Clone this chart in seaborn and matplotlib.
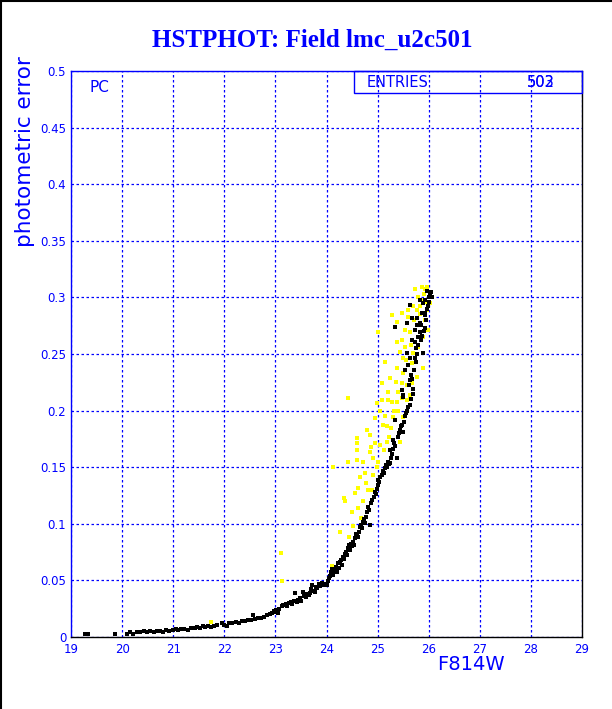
import matplotlib
matplotlib.use("Agg")
import matplotlib.pyplot as plt
from matplotlib.lines import Line2D
from matplotlib.patches import Rectangle
from matplotlib.ticker import MultipleLocator, FixedLocator
import seaborn as sns
import pandas as pd

# ---------------- data ----------------
black_mag = [19.28, 19.33, 19.86, 20.10, 20.16, 20.22, 20.30, 20.36, 20.42, 20.48, 20.55, 20.62, 20.68, 20.74,
             20.80, 20.86, 20.92, 21.00, 21.05, 21.10, 21.16, 21.22, 21.28, 21.34, 21.42, 21.46, 21.52, 21.58,
             21.62, 21.68, 21.74, 21.80, 21.86, 21.95, 22.00, 22.05, 22.10, 22.16, 22.22, 22.28, 22.34, 22.40,
             22.46, 22.52, 22.56, 22.60, 22.66, 22.72, 22.78, 22.84, 22.90, 22.94, 22.97, 23.00, 23.02, 23.05,
             23.08, 23.12, 23.15, 23.20, 23.23, 23.27, 23.30, 23.33, 23.36, 23.38, 23.42, 23.45, 23.48, 23.50,
             23.54, 23.56, 23.60, 23.62, 23.65, 23.68, 23.70, 23.72, 23.75, 23.78, 23.80, 23.82, 23.85, 23.88,
             23.92, 23.95, 23.98, 24.00, 24.02, 24.05, 24.07, 24.09, 24.10, 24.12, 24.14, 24.16, 24.18, 24.20,
             24.22, 24.24, 24.26, 24.28, 24.30, 24.32, 24.34, 24.36, 24.38, 24.40, 24.42, 24.44, 24.46, 24.48,
             24.50, 24.52, 24.54, 24.56, 24.58, 24.60, 24.62, 24.64, 24.66, 24.68, 24.70, 24.72, 24.74, 24.76,
             24.78, 24.80, 24.82, 24.84, 24.86, 24.88, 24.90, 24.92, 24.94, 24.96, 24.98, 25.00, 25.01, 25.03,
             25.05, 25.08, 25.10, 25.12, 25.14, 25.16, 25.18, 25.20, 25.22, 25.24, 25.26, 25.28, 25.30, 25.24,
             25.32, 25.30, 25.35, 25.38, 25.40, 25.42, 25.44, 25.46, 25.48, 25.50, 25.34, 25.52, 25.54, 25.56,
             25.58, 25.60, 25.63, 25.50, 25.66, 25.69, 25.48, 25.50, 25.62, 25.64, 25.54, 25.60, 25.66, 25.70,
             25.58, 25.63, 25.73, 25.89, 25.75, 25.79, 25.67, 25.73, 25.83, 25.73, 25.93, 25.34, 25.77, 25.83,
             25.58, 25.67, 25.77, 25.87, 25.93, 25.89, 25.63, 25.83, 25.93, 26.06, 26.03, 25.97, 25.99, 26.01,
             26.04, 25.95, 25.85, 25.80, 25.90, 25.96, 25.76, 25.72, 25.68, 25.84, 25.92, 26.00, 25.78, 25.86]
black_err = [0.003, 0.003, 0.003, 0.003, 0.004, 0.003, 0.004, 0.004, 0.005, 0.004, 0.005, 0.004, 0.005, 0.005,
             0.004, 0.006, 0.005, 0.006, 0.007, 0.006, 0.007, 0.007, 0.006, 0.008, 0.008, 0.009, 0.008, 0.010,
             0.009, 0.010, 0.009, 0.010, 0.011, 0.012, 0.011, 0.010, 0.012, 0.012, 0.013, 0.012, 0.014, 0.014,
             0.015, 0.015, 0.019, 0.016, 0.017, 0.017, 0.018, 0.019, 0.020, 0.021, 0.023, 0.022, 0.024, 0.021,
             0.025, 0.027, 0.028, 0.029, 0.027, 0.030, 0.031, 0.029, 0.032, 0.039, 0.031, 0.033, 0.034, 0.032,
             0.040, 0.036, 0.035, 0.038, 0.037, 0.039, 0.042, 0.046, 0.041, 0.040, 0.044, 0.043, 0.047, 0.045,
             0.048, 0.046, 0.047, 0.046, 0.049, 0.052, 0.054, 0.057, 0.060, 0.055, 0.059, 0.058, 0.062, 0.057,
             0.065, 0.061, 0.066, 0.068, 0.064, 0.071, 0.069, 0.073, 0.075, 0.072, 0.079, 0.081, 0.077, 0.082,
             0.080, 0.084, 0.081, 0.087, 0.091, 0.089, 0.088, 0.093, 0.097, 0.099, 0.096, 0.102, 0.104, 0.101,
             0.106, 0.110, 0.115, 0.112, 0.099, 0.118, 0.121, 0.124, 0.128, 0.126, 0.131, 0.134, 0.139, 0.137,
             0.141, 0.143, 0.147, 0.145, 0.149, 0.152, 0.150, 0.155, 0.153, 0.154, 0.158, 0.162, 0.166, 0.165,
             0.171, 0.174, 0.169, 0.158, 0.177, 0.180, 0.183, 0.186, 0.187, 0.181, 0.192, 0.190, 0.195, 0.198,
             0.200, 0.203, 0.205, 0.214, 0.210, 0.215, 0.218, 0.212, 0.223, 0.227, 0.236, 0.240, 0.231, 0.219,
             0.251, 0.246, 0.246, 0.251, 0.255, 0.265, 0.262, 0.261, 0.269, 0.271, 0.273, 0.274, 0.276, 0.277,
             0.277, 0.282, 0.282, 0.286, 0.286, 0.295, 0.293, 0.298, 0.298, 0.300, 0.302, 0.306, 0.292, 0.296,
             0.305, 0.280, 0.262, 0.258, 0.270, 0.290, 0.243, 0.236, 0.228, 0.276, 0.284, 0.300, 0.250, 0.266]

yellow_mag = [21.74, 23.12, 23.10, 24.10, 24.13, 24.26, 24.34, 24.36, 24.42, 24.42, 24.50, 24.56, 24.60, 24.60,
              24.60, 24.60, 24.62, 24.62, 24.66, 24.71, 24.77, 24.79, 24.81, 24.85, 24.85, 24.89, 24.91, 24.95,
              24.95, 24.91, 24.99, 25.01, 25.05, 25.09, 25.10, 25.18, 25.18, 25.20, 25.20, 25.28, 25.30, 25.38,
              25.40, 25.44, 25.48, 25.50, 25.58, 25.63, 25.48, 25.22, 25.01, 25.28, 25.09, 25.14, 25.24, 25.38,
              25.38, 25.38, 25.44, 25.48, 25.48, 25.50, 25.50, 25.54, 25.58, 25.60, 25.60, 25.63, 25.63, 25.67,
              25.69, 25.69, 25.73, 25.77, 25.79, 25.79, 25.83, 25.87, 25.89, 25.89, 25.93, 25.93, 25.97, 25.97,
              25.99, 26.03, 25.54, 25.40, 25.48, 25.67, 25.77, 25.05, 25.12, 25.26, 25.32, 25.15, 24.72, 24.68,
              24.52, 24.45, 24.98, 25.36, 25.55, 25.65, 25.71, 25.85, 25.91, 25.82, 25.95, 24.88, 24.75]
yellow_err = [0.013, 0.049, 0.074, 0.063, 0.150, 0.093, 0.123, 0.120, 0.155, 0.211, 0.110, 0.127, 0.176, 0.171,
              0.165, 0.156, 0.132, 0.114, 0.141, 0.155, 0.136, 0.183, 0.130, 0.178, 0.163, 0.130, 0.158, 0.193,
              0.171, 0.143, 0.207, 0.155, 0.200, 0.209, 0.187, 0.172, 0.186, 0.209, 0.216, 0.208, 0.194, 0.208,
              0.200, 0.172, 0.211, 0.194, 0.209, 0.211, 0.218, 0.177, 0.269, 0.284, 0.224, 0.243, 0.229, 0.278,
              0.261, 0.238, 0.252, 0.286, 0.262, 0.246, 0.233, 0.256, 0.223, 0.289, 0.283, 0.214, 0.269, 0.242,
              0.292, 0.251, 0.307, 0.230, 0.256, 0.300, 0.292, 0.309, 0.265, 0.238, 0.280, 0.307, 0.289, 0.309,
              0.271, 0.295, 0.271, 0.216, 0.224, 0.224, 0.289, 0.170, 0.165, 0.185, 0.200, 0.195, 0.120, 0.105,
              0.098, 0.088, 0.150, 0.225, 0.245, 0.258, 0.280, 0.298, 0.303, 0.285, 0.296, 0.168, 0.145]

x_ticks = [19, 20, 21, 22, 23, 24, 25, 26, 27, 28, 29]
x_tick_labels = ["19", "20", "21", "22", "23", "24", "25", "26", "27", "28", "29"]
y_ticks = [0, 0.05, 0.1, 0.15, 0.2, 0.25, 0.3, 0.35, 0.4, 0.45, 0.5]
y_tick_labels = ["0", "0.05", "0.1", "0.15", "0.2", "0.25", "0.3", "0.35", "0.4", "0.45", "0.5"]

title = "HSTPHOT: Field lmc_u2c501"
x_label = "F814W"
y_label = "photometric error"
entries_values = ["503", "502"]

# ---------------- plot ----------------
sns.set_style("white")
plt.rcParams['font.family'] = ['DejaVu Sans']
BLUE = "#0000ff"

df_y = pd.DataFrame({"mag": yellow_mag, "err": yellow_err})
df_b = pd.DataFrame({"mag": black_mag, "err": black_err})

fig = plt.figure(figsize=(6.12, 7.09), dpi=100)
ax = fig.add_axes([0.116, 0.1016, 0.835, 0.7983])

sns.scatterplot(data=df_y, x="mag", y="err", ax=ax, color="#ffff00", marker="s", s=6,
                linewidth=0, zorder=3, legend=False)
sns.scatterplot(data=df_b, x="mag", y="err", ax=ax, color="black", marker="s", s=5,
                linewidth=0, zorder=4, legend=False)

ax.set_xlim(19, 29)
ax.set_ylim(0, 0.5)
ax.set_xlabel("")
ax.set_ylabel("")
ax.xaxis.set_major_locator(FixedLocator(x_ticks))
ax.set_xticklabels(x_tick_labels)
ax.yaxis.set_major_locator(FixedLocator(y_ticks))
ax.set_yticklabels(y_tick_labels)
ax.xaxis.set_minor_locator(MultipleLocator(0.2))
ax.yaxis.set_minor_locator(MultipleLocator(0.01))
ax.tick_params(which="both", direction="in", colors=BLUE, labelcolor=BLUE, labelsize=8.5,
               top=False, right=False)
ax.tick_params(which="major", length=10, width=1)
ax.tick_params(which="minor", length=5, width=1)
ax.tick_params(axis="x", pad=4)
ax.grid(True, which="major", color=BLUE, linestyle=(0, (2, 2)), linewidth=0.9, zorder=1)
ax.set_axisbelow(True)

for side in ["left", "top"]:
    ax.spines[side].set_color(BLUE)
for side in ["bottom", "right"]:
    ax.spines[side].set_color("black")
for sp in ax.spines.values():
    sp.set_linewidth(1.0)
    sp.set_visible(True)

# stats box
ax.add_patch(Rectangle((0.554, 0.961), 0.446, 0.039, transform=ax.transAxes, fill=False,
                       edgecolor=BLUE, linewidth=1.0, clip_on=False, zorder=5))
ax.text(0.578, 0.9805, "ENTRIES", transform=ax.transAxes, color=BLUE, fontsize=10.5,
        ha="left", va="center")
for v in entries_values:
    ax.text(0.92, 0.9805, v, transform=ax.transAxes, color=BLUE, fontsize=10.5,
            ha="center", va="center")
ax.text(0.037, 0.97, "PC", transform=ax.transAxes, color=BLUE, fontsize=11, ha="left", va="center")

# titles / labels
fig.text(312 / 612, 1 - 40 / 709, title, color=BLUE, fontsize=18, fontweight="bold",
         family=["Liberation Serif", "DejaVu Serif"], ha="center", va="center")
fig.text(25 / 612, 1 - 152 / 709, y_label, color=BLUE, fontsize=15.5, rotation=90,
         ha="center", va="center")
fig.text(471 / 612, 1 - 665 / 709, x_label, color=BLUE, fontsize=14, ha="center", va="center")

# figure border (left and top)
fig.add_artist(Line2D([0.0015, 0.0015], [0, 1], transform=fig.transFigure, color="black", linewidth=1.5))
fig.add_artist(Line2D([0, 1], [0.9985, 0.9985], transform=fig.transFigure, color="black", linewidth=1.5))

fig.savefig("out.png", dpi=100, facecolor="white")
